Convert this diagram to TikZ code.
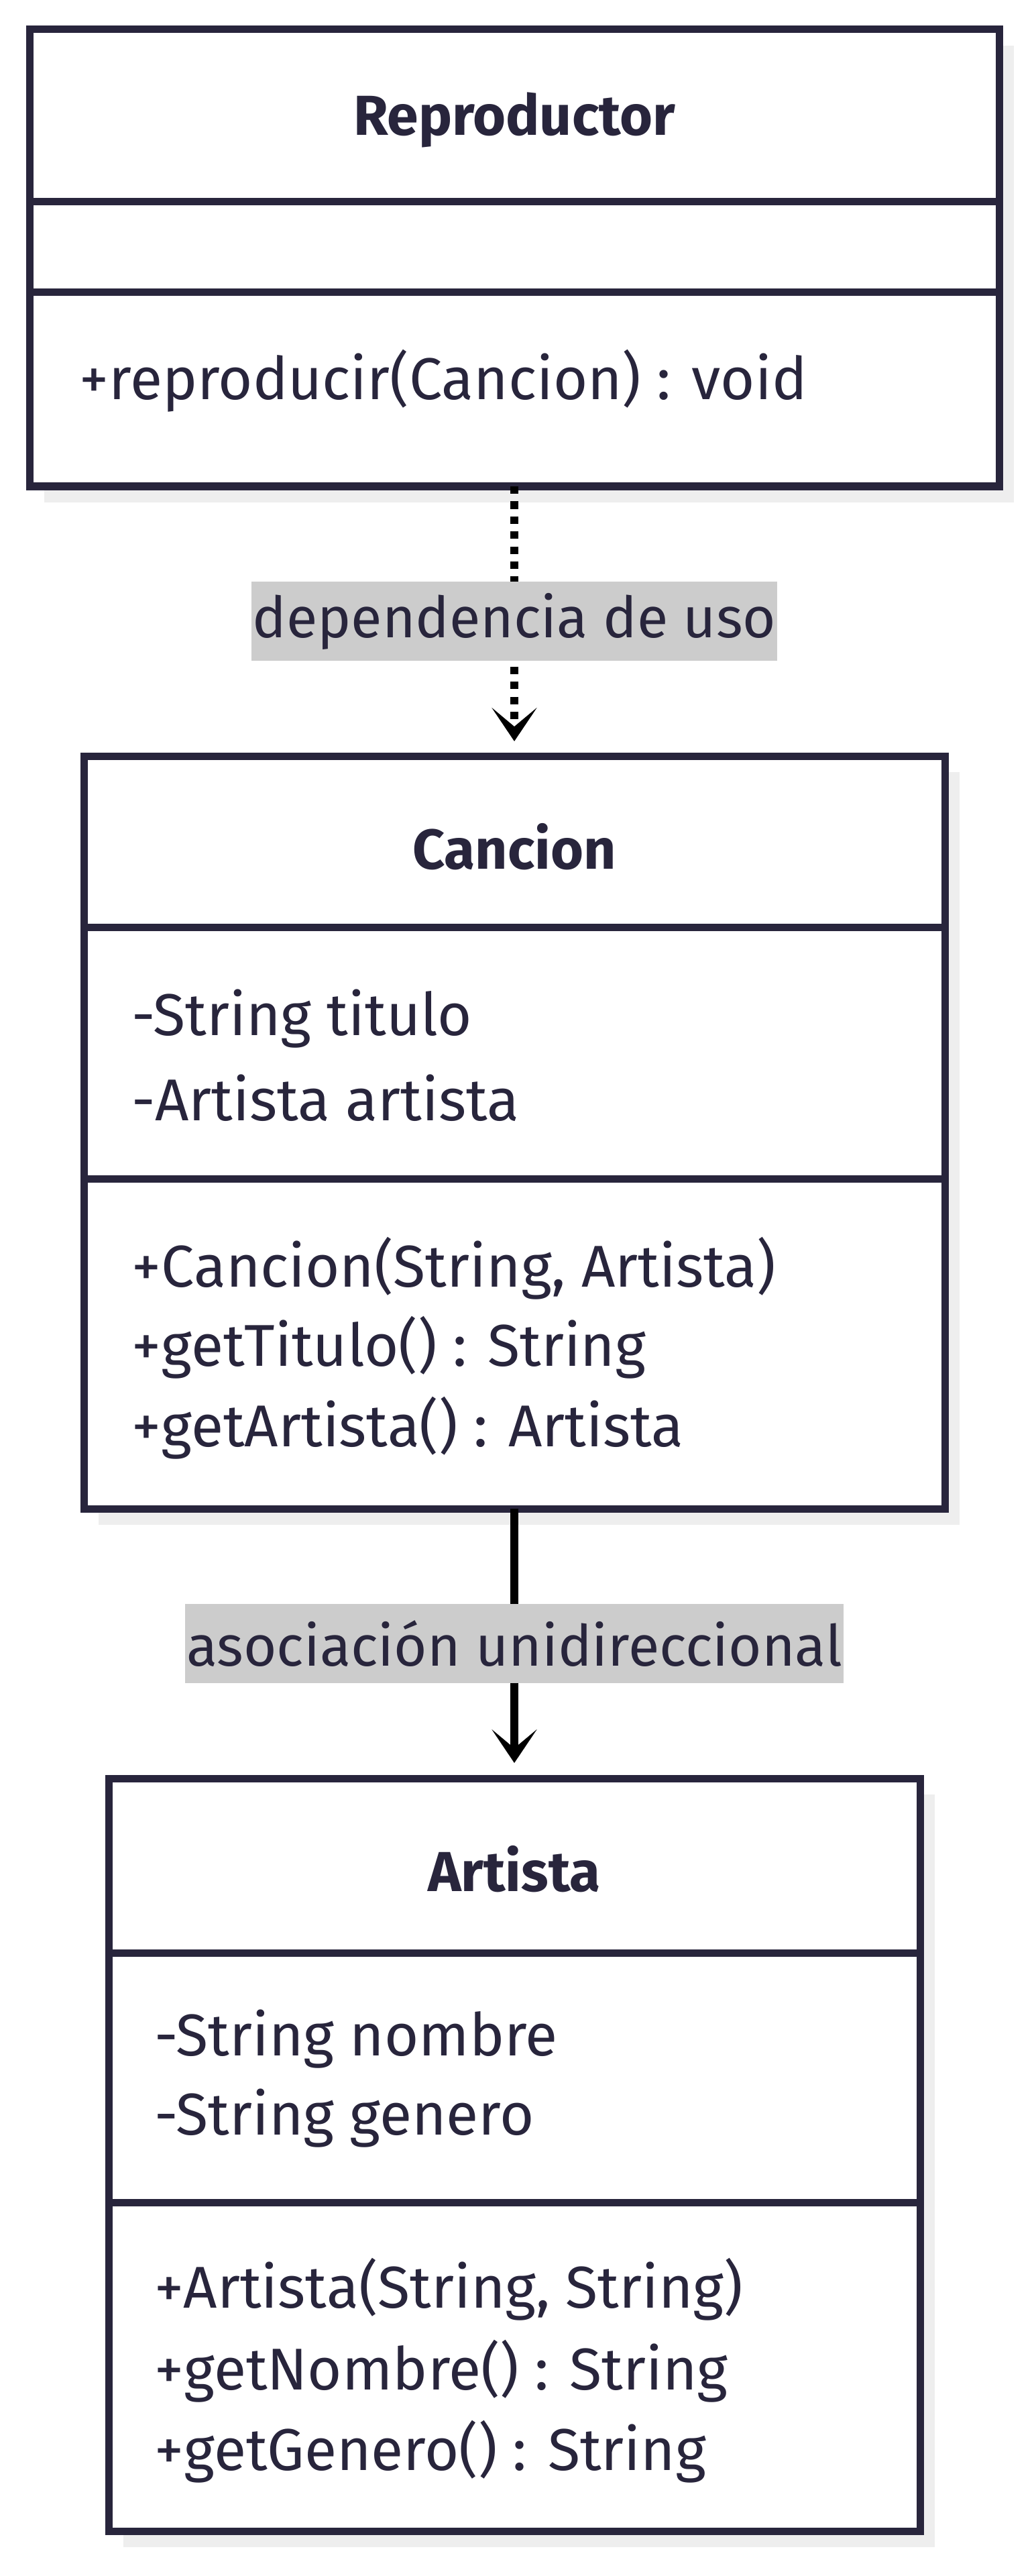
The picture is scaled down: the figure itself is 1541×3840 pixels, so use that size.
\documentclass[tikz,border=0pt]{standalone}
\usepackage{fontspec}
\setmainfont{Fira Sans}
\usetikzlibrary{arrows.meta, shadows}
\definecolor{cInk}{RGB}{40,37,60}
\definecolor{cLabel}{RGB}{204,204,204}
\definecolor{cShadow}{RGB}{238,238,238}
\tikzset{
	classbox/.style ={rectangle, draw=cInk, line width=2.75pt, fill=white, inner sep=0pt, outer sep=0pt, drop shadow={shadow xshift=5.5pt, shadow yshift=-6pt, fill=cShadow, opacity=1}},
	divider/.style  ={draw=cInk, line width=2.75pt},
	classtitle/.style={font=\fontsize{21}{29.5}\selectfont\bfseries, text=cInk, inner sep=0pt},
	member/.style   ={font=\fontsize{22}{29.5}\selectfont, text=cInk, inner sep=0pt, anchor=west},
	edgelabel/.style={fill=cLabel, text=cInk, font=\fontsize{21.2}{29.5}\selectfont, inner xsep=0.5pt, inner ysep=0pt, minimum height=29.5pt},
	usearrow/.style ={-{Stealth[length=12.5pt, width=16.8pt, inset=7pt]}, line width=3pt, dash pattern=on 2.8pt off 2.8pt, shorten >=5.5pt},
	assocarrow/.style={-{Stealth[length=12.5pt, width=16.8pt, inset=7pt]}, line width=3pt, shorten >=5.75pt},
}
\begin{document}
\begin{tikzpicture}[x=0.25pt, y=-0.25pt]
	\useasboundingbox (0,0) rectangle (1541,3840);
	% class boxes
	\node[classbox, minimum width=361.5pt, minimum height=170.25pt] (repr) at (767,384.5) {};
	\node[classbox, minimum width=321pt, minimum height=280.5pt] (canc) at (767,1688) {};
	\node[classbox, minimum width=302.5pt, minimum height=280.5pt] (art) at (767,3212) {};
	% compartments
	\foreach \b/\ya/\yb in {repr/301/436, canc/1382/1757, art/2911/3283} {
		\draw[divider] (\b.west |- 0,\ya) -- (\b.east |- 0,\ya);
		\draw[divider] (\b.west |- 0,\yb) -- (\b.east |- 0,\yb);
	}
	% Reproductor
	\node[classtitle] (reprname) at (767,179) {Reproductor};
	\node[member] (reprop) at (118,568) {+reproducir(Cancion) : void};
	% Cancion
	\node[classtitle] (cancname) at (767,1262) {Cancion};
	\foreach \t/\y in {{-String titulo}/1519, {-Artista artista}/1637}
		\node[member] at (196,\y) {\t};
	\foreach \t/\y in {{+Cancion(String, Artista)}/1891, {+getTitulo() : String}/2009, {+getArtista() : Artista}/2129}
		\node[member] at (196,\y) {\t};
	% Artista
	\node[classtitle] (artname) at (767,2786) {Artista};
	\foreach \t/\y in {{-String nombre}/3040, {-String genero}/3158}
		\node[member] at (230,\y) {\t};
	\foreach \t/\y in {{+Artista(String, String)}/3413, {+getNombre() : String}/3535, {+getGenero() : String}/3655}
		\node[member] at (230,\y) {\t};
	% relations
	\draw[usearrow] (repr.south) -- node[edgelabel] (uselbl) {dependencia de uso} (canc.north);
	\draw[assocarrow] (canc.south) -- node[edgelabel] (assoclbl) {asociación unidireccional} (art.north);
\end{tikzpicture}
\end{document}
